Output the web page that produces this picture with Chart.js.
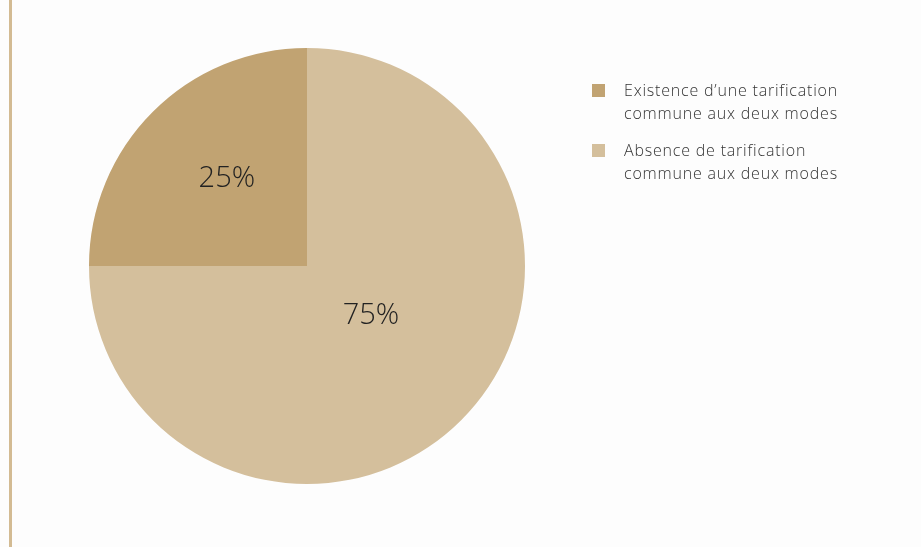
<!DOCTYPE html>
<html>
<head>
<meta charset="utf-8">
<script src="https://cdn.jsdelivr.net/npm/chart.js@4/dist/chart.umd.min.js"></script>
<style>
  html, body { margin: 0; padding: 0; background: #fdfdfd; }
  #wrap { position: relative; width: 921px; height: 547px; }
  #rule { position: absolute; left: 9px; top: 0; width: 3px; height: 547px; background: #d3bb93; }
</style>
</head>
<body>
<div id="wrap">
  <div id="rule"></div>
  <canvas id="canvas" width="921" height="547"></canvas>
</div>
<script>
const labels = [
    ['Existence d\u2019une tarification', 'commune aux deux modes'],
    ['Absence de tarification', 'commune aux deux modes']
]
const values = [25, 75]
const colors = ['#c1a372', '#d4bf9c']

// percentage text inside each slice: at a fraction of the slice's sweep and radius
const sliceLabels = {
    id: 'sliceLabels',
    afterDatasetsDraw(chart, args, opts) {
        const ctx = chart.ctx
        const meta = chart.getDatasetMeta(0)
        ctx.save()
        ctx.font = '300 29px "Open Sans"'
        ctx.fillStyle = '#222'
        ctx.textAlign = 'center'
        ctx.textBaseline = 'middle'
        meta.data.forEach((arc, i) => {
            const p = arc.getProps(['x', 'y', 'startAngle', 'endAngle', 'outerRadius'], true)
            const a = p.startAngle + (p.endAngle - p.startAngle) * opts.sweep[i]
            const r = p.outerRadius * opts.dist[i]
            ctx.fillText(values[i] + '%', p.x + Math.cos(a) * r, p.y + Math.sin(a) * r + 2)
        })
        ctx.restore()
    }
}

// legend on the right with two-line labels
const sideLegend = {
    id: 'sideLegend',
    afterDraw(chart, args, opts) {
        const ctx = chart.ctx
        ctx.save()
        ctx.font = '300 16px "Open Sans"'
        ctx.letterSpacing = '0.8px'
        ctx.textBaseline = 'alphabetic'
        labels.forEach((lines, i) => {
            const top = opts.y + i * opts.gap
            ctx.fillStyle = colors[i]
            ctx.fillRect(opts.x, top, 13, 13)
            ctx.fillStyle = '#333'
            lines.forEach((t, j) => {
                ctx.fillText(t, opts.x + 32, top + 12 + j * 23)
            })
        })
        ctx.restore()
    }
}

const data = {
    labels: labels,
    datasets: [{
        data: values,
        backgroundColor: colors,
        borderWidth: 0,
        hoverOffset: 0
    }]
}

const config = {
    type: 'pie',
    data: data,
    options: {
        responsive: false,
        animation: false,
        rotation: -90,
        layout: { padding: { top: 48, bottom: 63, left: 89, right: 396 } },
        plugins: {
            legend: { display: false },
            tooltip: { enabled: false },
            sliceLabels: { dist: [0.55, 0.367], sweep: [0.534, 0.47] },
            sideLegend: { x: 592, y: 84, gap: 60 }
        }
    },
    plugins: [sliceLabels, sideLegend]
}
const canvas = document.getElementById('canvas')
const chart = new Chart(canvas, config)
</script>
</body>
</html>
